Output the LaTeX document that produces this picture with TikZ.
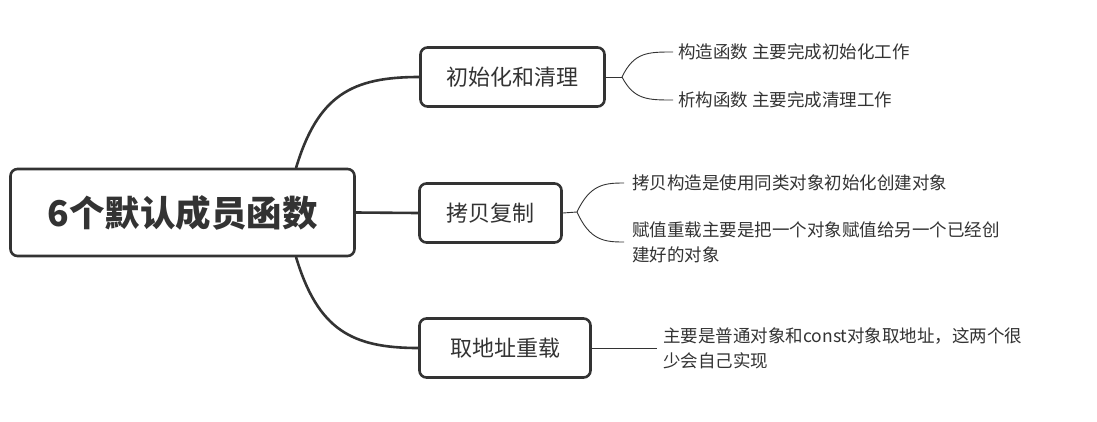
\documentclass[tikz,border=0pt]{standalone}
\usepackage{fontspec}
\setmainfont{Noto Sans CJK SC}
\definecolor{dark}{HTML}{333333}
\definecolor{txt}{HTML}{333333}
\begin{document}
\begin{tikzpicture}[x=1pt,y=-1pt,
  box/.style={draw=dark, line width=2.6pt, rounded corners=7pt, fill=white, inner sep=0pt, text=txt},
  midbox/.style={box, font=\fontsize{22}{26}\selectfont},
  leaf/.style={anchor=west, inner sep=0pt, text=txt, font=\fontsize{17.5}{25}\selectfont, align=left},
  mainline/.style={draw=dark, line width=2.6pt},
  thinline/.style={draw=dark, line width=0.9pt}]
\fill[white] (0,0) rectangle (1097,421);
\useasboundingbox (0,0) rectangle (1097,421);
% root
\node[box, minimum width=344pt, minimum height=87pt, font=\fontsize{35.5}{40}\selectfont\bfseries] (root) at (182.5,212.5) {6个默认成员函数};
% branches
\node[midbox, minimum width=184pt, minimum height=59pt] (b1) at (512.5,77) {初始化和清理};
\node[midbox, minimum width=142pt, minimum height=59pt] (b2) at (490.5,213) {拷贝复制};
\node[midbox, minimum width=171pt, minimum height=59pt] (b3) at (505,348) {取地址重载};
% leaves
\node[leaf] (l1) at (678,52) {构造函数 主要完成初始化工作};
\node[leaf] (l2) at (678,100) {析构函数 主要完成清理工作};
\node[leaf] (l3) at (632,183) {拷贝构造是使用同类对象初始化创建对象};
\node[leaf] (l4) at (632,242) {赋值重载主要是把一个对象赋值给另一个已经创\\建好的对象};
\node[leaf] (l5) at (663,348) {主要是普通对象和const对象取地址，这两个很\\少会自己实现};
% main connectors
\coordinate (rt) at (296,168);
\coordinate (rb) at (296,257);
\draw[mainline] (rt) .. controls (318,95) and (352,77) .. (b1.west);
\draw[mainline] (rb) .. controls (318,330) and (352,348) .. (b3.west);
\draw[mainline] (root.east) -- (b2.west);
% forks
\coordinate (f1) at (622,77);
\draw[thinline] (b1.east) -- (f1);
\draw[thinline] (f1) .. controls (634,52) and (648,52) .. ([xshift=-5pt]l1.west);
\draw[thinline] (f1) .. controls (634,100) and (648,100) .. ([xshift=-5pt]l2.west);
\coordinate (f2) at (577,212);
\draw[thinline] (b2.east) -- (f2);
\draw[thinline] (f2) .. controls (590,184) and (605,183) .. ([xshift=-8pt]l3.west);
\draw[thinline] (f2) .. controls (590,241) and (605,242) .. ([xshift=-8pt]l4.west);
\draw[thinline] (b3.east) -- ([xshift=-6pt]l5.west);
\end{tikzpicture}
\end{document}
